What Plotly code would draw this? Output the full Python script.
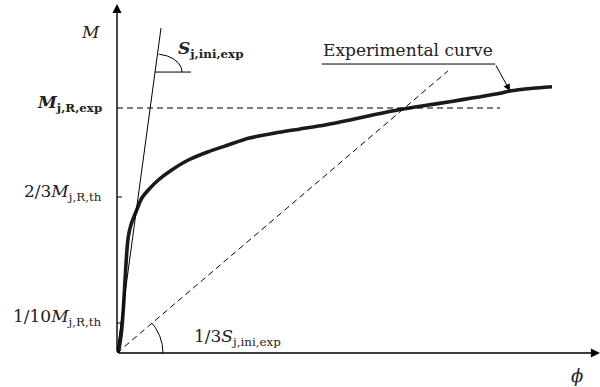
import numpy as np
import plotly.graph_objects as go

# ---- data (arbitrary schematic units: phi 0..100, M 0..100) ----
phi_curve = [0, 0.27, 0.62, 0.97, 1.30, 1.66, 2.01, 2.34, 2.94, 4.08, 5.11, 6.48, 8.55,
             11.33, 14.76, 18.90, 23.04, 27.18, 32.71, 37.89, 43.07, 48.24, 53.42, 58.59,
             63.77, 68.94, 74.12, 79.30, 81.37, 86.13, 90.06]
M_curve = [0, 0.37, 2.87, 6.59, 12.32, 20.92, 28.65, 33.32, 36.96, 40.97, 44.33, 46.70, 49.57,
           52.44, 55.30, 57.68, 59.60, 61.52, 63.04, 64.18, 65.33, 66.76, 68.34, 69.77,
           70.92, 72.01, 73.21, 74.41, 75.07, 75.85, 76.30]

M_levels = [70.2, 44.7, 8.6]          # M_j,R,exp ; 2/3 M_j,R,th ; 1/10 M_j,R,th
M_labels = ["<b><i>M</i><sub>j,R,exp</sub></b>",
            "2/3<i>M</i><sub>j,R,th</sub>",
            "1/10<i>M</i><sub>j,R,th</sub>"]
M_exp_line_end = 79.3

tangent_phi = [0, 9.11]
tangent_M = [0, 93.1]
secant_phi = [0, 68.5]
secant_M = [0, 80.8]

# ---- layout geometry ----
W, H = 600, 387
ML, MR, MT, MB = 117, 0, 4, 34
XR = [0, 100]
YR = [0, 100]
pxx = (W - ML - MR) / (XR[1] - XR[0])
pxy = (H - MT - MB) / (YR[1] - YR[0])

FONT = "DejaVu Serif"
TXT = "#222222"
fig = go.Figure()

# experimental curve
fig.add_trace(go.Scatter(x=phi_curve, y=M_curve, mode="lines",
                         line=dict(color="#1a1a1a", width=3.6, shape="spline", smoothing=0.6),
                         cliponaxis=False))

# tangent (initial stiffness)
fig.add_trace(go.Scatter(x=tangent_phi, y=tangent_M, mode="lines",
                         line=dict(color="black", width=1), cliponaxis=False))
# secant 1/3 S
fig.add_trace(go.Scatter(x=secant_phi, y=secant_M, mode="lines",
                         line=dict(color="black", width=1, dash="6px,4px"), cliponaxis=False))
# M_j,R,exp dashed level
fig.add_trace(go.Scatter(x=[0, M_exp_line_end], y=[M_levels[0]] * 2, mode="lines",
                         line=dict(color="black", width=1, dash="6px,4px"), cliponaxis=False))

# angle mark on tangent line
slope_t = tangent_M[1] / tangent_phi[1]
ym = 80.5
xm = ym / slope_t
hl = 36 / pxx
fig.add_trace(go.Scatter(x=[xm, xm + hl], y=[ym, ym], mode="lines",
                         line=dict(color="black", width=1), cliponaxis=False))
ang_t = np.degrees(np.arctan((slope_t * pxy) / pxx))
th = np.radians(np.linspace(0, ang_t, 40))
fig.add_trace(go.Scatter(x=xm + 27 * np.cos(th) / pxx, y=ym + 18 * np.sin(th) / pxy,
                         mode="lines", line=dict(color="black", width=1), cliponaxis=False))

# angle mark at origin for secant
slope_s = secant_M[1] / secant_phi[1]
ang_s = np.degrees(np.arctan((slope_s * pxy) / pxx))
th = np.radians(np.linspace(0, ang_s, 40))
fig.add_trace(go.Scatter(x=46 * np.cos(th) / pxx, y=46 * np.sin(th) / pxy,
                         mode="lines", line=dict(color="black", width=1), cliponaxis=False))

shapes = []
# small ticks crossing the y-axis
for v in M_levels[1:]:
    shapes.append(dict(type="line", xref="x", yref="y", xsizemode="pixel", xanchor=0,
                       x0=-5, x1=5, y0=v, y1=v, line=dict(color="black", width=1)))
# underline of annotation label
shapes.append(dict(type="line", xref="x", yref="y", x0=42.4, x1=78.3, y0=82.8, y1=82.8,
                   line=dict(color="black", width=1)))

annotations = []
# axes as arrows
annotations.append(dict(x=XR[1], y=0, ax=0, ay=0, xref="x", yref="y", axref="x", ayref="y",
                        text="", showarrow=True, arrowhead=2, arrowsize=1.3, arrowwidth=1.4,
                        arrowcolor="black"))
annotations.append(dict(x=0, y=YR[1], ax=0, ay=0, xref="x", yref="y", axref="x", ayref="y",
                        text="", showarrow=True, arrowhead=2, arrowsize=1.3, arrowwidth=1.4,
                        arrowcolor="black"))
# pointer to the curve
annotations.append(dict(x=81.37, y=75.07, ax=78.3, ay=82.8, xref="x", yref="y", axref="x",
                        ayref="y", text="", showarrow=True, arrowhead=2, arrowsize=1.4,
                        arrowwidth=1, arrowcolor="black"))

# y level labels
for v, lab in zip(M_levels, M_labels):
    annotations.append(dict(x=0, y=v, xref="x", yref="y", text=lab, showarrow=False,
                            xanchor="right", yanchor="middle", xshift=-13, yshift=5,
                            font=dict(family=FONT, size=17, color=TXT)))

annotations += [
    dict(x=0, y=YR[1], xref="x", yref="y", text="<i>M</i>", showarrow=False,
         xanchor="center", yanchor="middle", xshift=-27, yshift=-28,
         font=dict(family=FONT, size=17, color=TXT)),
    dict(x=XR[1], y=0, xref="x", yref="y", text="<i>ϕ</i>", showarrow=False,
         xanchor="center", yanchor="middle", xshift=-23, yshift=-22,
         font=dict(family=FONT, size=18, color=TXT)),
    dict(x=xm, y=ym, xref="x", yref="y", text="<b><i>S</i><sub>j,ini,exp</sub></b>",
         showarrow=False, xanchor="left", yanchor="bottom", xshift=21, yshift=9,
         font=dict(family=FONT, size=17, color=TXT)),
    dict(x=0, y=0, xref="x", yref="y", text="1/3<i>S</i><sub>j,ini,exp</sub>",
         showarrow=False, xanchor="left", yanchor="bottom", xshift=75, yshift=2,
         font=dict(family=FONT, size=17, color=TXT)),
    dict(x=(42.4 + 78.3) / 2, y=82.8, xref="x", yref="y", text="Experimental curve",
         showarrow=False, xanchor="center", yanchor="bottom", yshift=2,
         font=dict(family=FONT, size=17, color=TXT)),
]

fig.update_layout(
    width=W, height=H, margin=dict(l=ML, r=MR, t=MT, b=MB),
    paper_bgcolor="white", plot_bgcolor="white", showlegend=False,
    xaxis=dict(range=XR, visible=False, fixedrange=True),
    yaxis=dict(range=YR, visible=False, fixedrange=True),
    shapes=shapes, annotations=annotations,
)

fig.write_html("out.html")
